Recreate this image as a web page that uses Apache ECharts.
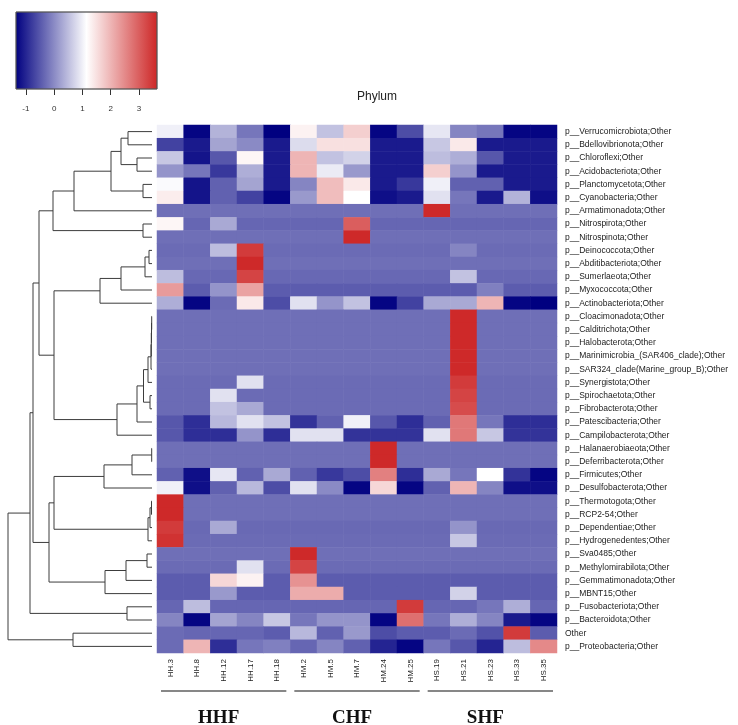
<!DOCTYPE html>
<html>
<head>
<meta charset="utf-8">
<script src="https://cdn.jsdelivr.net/npm/echarts@6/dist/echarts.min.js"></script>
<style>
html, body { margin: 0; padding: 0; background: #fff; }
#main { width: 738px; height: 725px; }
</style>
</head>
<body>
<div id="main"></div>
<script>
var samples = ['HH.3', 'HH.8', 'HH.12', 'HH.17', 'HH.18', 'HM.2', 'HM.5', 'HM.7', 'HM.24', 'HM.25',
    'HS.19', 'HS.21', 'HS.23', 'HS.33', 'HS.35'];

var phyla = [
    'p__Verrucomicrobiota;Other', 'p__Bdellovibrionota;Other', 'p__Chloroflexi;Other',
    'p__Acidobacteriota;Other', 'p__Planctomycetota;Other', 'p__Cyanobacteria;Other',
    'p__Armatimonadota;Other', 'p__Nitrospirota;Other', 'p__Nitrospinota;Other',
    'p__Deinococcota;Other', 'p__Abditibacteriota;Other', 'p__Sumerlaeota;Other',
    'p__Myxococcota;Other', 'p__Actinobacteriota;Other', 'p__Cloacimonadota;Other',
    'p__Calditrichota;Other', 'p__Halobacterota;Other', 'p__Marinimicrobia_(SAR406_clade);Other',
    'p__SAR324_clade(Marine_group_B);Other', 'p__Synergistota;Other', 'p__Spirochaetota;Other',
    'p__Fibrobacterota;Other', 'p__Patescibacteria;Other', 'p__Campilobacterota;Other',
    'p__Halanaerobiaeota;Other', 'p__Deferribacterota;Other', 'p__Firmicutes;Other',
    'p__Desulfobacterota;Other', 'p__Thermotogota;Other', 'p__RCP2-54;Other',
    'p__Dependentiae;Other', 'p__Hydrogenedentes;Other', 'p__Sva0485;Other',
    'p__Methylomirabilota;Other', 'p__Gemmatimonadota;Other', 'p__MBNT15;Other',
    'p__Fusobacteriota;Other', 'p__Bacteroidota;Other', 'Other', 'p__Proteobacteria;Other'
];

// row z-scores, one row per phylum, columns in samples order
var zRows = [
    [1.0, -1.3, 0.4, -0.2, -1.35, 1.3, 0.55, 1.7, -1.3, -0.6, 0.9, -0.05, -0.2, -1.3, -1.3],
    [-0.7, -1.1, 0.25, 0.0, -1.1, 0.8, 1.5, 1.5, -1.1, -1.1, 0.6, 1.4, -1.1, -1.1, -1.1],
    [0.6, -1.15, -0.5, 1.25, -1.1, 2.0, 0.55, 0.7, -1.1, -1.1, 0.5, 0.35, -0.5, -1.1, -1.1],
    [0.1, -0.2, -0.8, 0.35, -1.1, 2.0, 0.95, 0.15, -1.1, -1.1, 1.7, 0.1, -1.1, -1.1, -1.1],
    [1.1, -1.15, -0.4, 0.25, -1.1, -0.05, 1.9, 1.4, -1.1, -0.8, 1.0, -0.4, -0.4, -1.1, -1.1],
    [1.35, -1.15, -0.4, -0.7, -1.3, 0.15, 1.9, 1.15, -1.2, -1.1, 0.85, -0.2, -1.1, 0.4, -1.2],
    [-0.26, -0.26, -0.26, -0.26, -0.26, -0.26, -0.26, -0.26, -0.26, -0.26, 3.6, -0.26, -0.26, -0.26, -0.26],
    [1.25, -0.35, 0.3, -0.35, -0.35, -0.35, -0.35, 3.0, -0.35, -0.35, -0.35, -0.35, -0.35, -0.35, -0.35],
    [-0.26, -0.26, -0.26, -0.26, -0.26, -0.26, -0.26, 3.6, -0.26, -0.26, -0.26, -0.26, -0.26, -0.26, -0.26],
    [-0.3, -0.3, 0.5, 3.4, -0.3, -0.3, -0.3, -0.3, -0.3, -0.3, -0.3, -0.05, -0.3, -0.3, -0.3],
    [-0.26, -0.26, -0.26, 3.6, -0.26, -0.26, -0.26, -0.26, -0.26, -0.26, -0.26, -0.26, -0.26, -0.26, -0.26],
    [0.5, -0.33, -0.33, 3.3, -0.33, -0.33, -0.33, -0.33, -0.33, -0.33, -0.33, 0.55, -0.33, -0.33, -0.33],
    [2.3, -0.45, 0.1, 2.2, -0.45, -0.45, -0.45, -0.45, -0.45, -0.45, -0.45, -0.45, -0.1, -0.45, -0.45],
    [0.35, -1.3, -0.3, 1.4, -0.6, 0.85, 0.1, 0.55, -1.3, -0.7, 0.3, 0.3, 2.0, -1.3, -1.35],
    [-0.26, -0.26, -0.26, -0.26, -0.26, -0.26, -0.26, -0.26, -0.26, -0.26, -0.26, 3.6, -0.26, -0.26, -0.26],
    [-0.26, -0.26, -0.26, -0.26, -0.26, -0.26, -0.26, -0.26, -0.26, -0.26, -0.26, 3.6, -0.26, -0.26, -0.26],
    [-0.26, -0.26, -0.26, -0.26, -0.26, -0.26, -0.26, -0.26, -0.26, -0.26, -0.26, 3.6, -0.26, -0.26, -0.26],
    [-0.26, -0.26, -0.26, -0.26, -0.26, -0.26, -0.26, -0.26, -0.26, -0.26, -0.26, 3.6, -0.26, -0.26, -0.26],
    [-0.26, -0.26, -0.26, -0.26, -0.26, -0.26, -0.26, -0.26, -0.26, -0.26, -0.26, 3.6, -0.26, -0.26, -0.26],
    [-0.3, -0.3, -0.3, 0.85, -0.3, -0.3, -0.3, -0.3, -0.3, -0.3, -0.3, 3.4, -0.3, -0.3, -0.3],
    [-0.3, -0.3, 0.85, -0.3, -0.3, -0.3, -0.3, -0.3, -0.3, -0.3, -0.3, 3.3, -0.3, -0.3, -0.3],
    [-0.3, -0.3, 0.55, 0.3, -0.3, -0.3, -0.3, -0.3, -0.3, -0.3, -0.3, 3.2, -0.3, -0.3, -0.3],
    [-0.5, -0.9, 0.45, 0.85, 0.55, -0.85, -0.4, 1.0, -0.5, -0.9, -0.4, 2.7, -0.2, -0.9, -0.9],
    [-0.5, -0.9, -0.9, 0.1, -0.9, 0.85, 0.85, -0.85, -0.85, -0.85, 0.85, 2.7, 0.6, -0.85, -0.85],
    [-0.26, -0.26, -0.26, -0.26, -0.26, -0.26, -0.26, -0.26, 3.6, -0.26, -0.26, -0.26, -0.26, -0.26, -0.26],
    [-0.26, -0.26, -0.26, -0.26, -0.26, -0.26, -0.26, -0.26, 3.6, -0.26, -0.26, -0.26, -0.26, -0.26, -0.26],
    [-0.4, -1.2, 0.9, -0.4, 0.3, -0.4, -0.8, -0.6, 2.6, -0.9, 0.3, -0.2, 1.15, -0.85, -1.3],
    [1.0, -1.2, -0.4, 0.45, -0.6, 0.85, 0.0, -1.3, 1.6, -1.3, -0.4, 2.0, -0.05, -1.2, -1.2],
    [3.6, -0.26, -0.26, -0.26, -0.26, -0.26, -0.26, -0.26, -0.26, -0.26, -0.26, -0.26, -0.26, -0.26, -0.26],
    [3.6, -0.26, -0.26, -0.26, -0.26, -0.26, -0.26, -0.26, -0.26, -0.26, -0.26, -0.26, -0.26, -0.26, -0.26],
    [3.4, -0.32, 0.3, -0.32, -0.32, -0.32, -0.32, -0.32, -0.32, -0.32, -0.32, 0.1, -0.32, -0.32, -0.32],
    [3.5, -0.3, -0.3, -0.3, -0.3, -0.3, -0.3, -0.3, -0.3, -0.3, -0.3, 0.6, -0.3, -0.3, -0.3],
    [-0.26, -0.26, -0.26, -0.26, -0.26, 3.6, -0.26, -0.26, -0.26, -0.26, -0.26, -0.26, -0.26, -0.26, -0.26],
    [-0.3, -0.3, -0.3, 0.85, -0.3, 3.3, -0.3, -0.3, -0.3, -0.3, -0.3, -0.3, -0.3, -0.3, -0.3],
    [-0.45, -0.45, 1.6, 1.3, -0.45, 2.4, -0.45, -0.45, -0.45, -0.45, -0.45, -0.45, -0.45, -0.45, -0.45],
    [-0.45, -0.45, 0.15, -0.45, -0.45, 2.1, 2.1, -0.45, -0.45, -0.45, -0.45, 0.7, -0.45, -0.45, -0.45],
    [-0.35, 0.5, -0.35, -0.35, -0.35, -0.35, -0.35, -0.35, -0.35, 3.4, -0.35, -0.35, -0.2, 0.35, -0.35],
    [-0.05, -1.3, 0.25, -0.05, 0.6, -0.2, 0.1, 0.1, -1.3, 2.8, -0.2, 0.35, -0.05, -1.1, -1.3],
    [-0.3, -0.35, -0.35, -0.35, -0.45, 0.45, -0.4, 0.15, -0.6, -0.45, -0.45, -0.3, -0.55, 3.4, -0.45],
    [-0.3, 2.0, -0.9, -0.2, -0.1, -0.35, -0.05, -0.4, -1.0, -1.3, -0.2, -0.5, -1.0, 0.5, 2.5]
];

// row clustering, hclust style: negative = leaf (1-based row), positive = earlier merge; then height
var merges = [
    [-1, -2, 24], [-3, -4, 15], [1, 2, 31], [-5, -6, 9], [3, 4, 41],
    [5, -7, 78], [-8, -9, 9], [6, 7, 99], [-10, -11, 3], [9, -12, 7],
    [10, -13, 31], [11, -14, 52], [-15, -16, 0.3], [13, -17, 0.5], [14, -18, 0.7],
    [15, -19, 1], [16, -20, 4], [-21, -22, 2], [17, 18, 8.5], [19, -23, 15],
    [20, -24, 35], [12, 21, 98], [8, 22, 113], [-25, -26, 0.3], [24, -27, 20],
    [25, -28, 48], [-29, -30, 0.5], [27, -31, 2], [28, -32, 4], [26, 29, 98],
    [-33, -34, 5], [31, -35, 26], [32, -36, 47], [30, 33, 103], [23, 34, 119],
    [-37, -38, 25], [35, 36, 122], [-39, -40, 79], [37, 38, 144]
];

var legendRange = [-1.35, 3.64];
var legendTicks = [-1, 0, 1, 2, 3];
var colorStops = ['#000080', '#ffffff', '#cd2626'];

var groups = [
    ['HHF', 'HH.3', 'HH.18'],
    ['CHF', 'HM.2', 'HM.25'],
    ['SHF', 'HS.19', 'HS.35']
];

var cells = [];
for (var r = 0; r < zRows.length; r++) {
    for (var c = 0; c < samples.length; c++) {
        cells.push([c, r, zRows[r][c]]);
    }
}

// dendrogram layout: leaf at row centre, node at mean of its children
var nodeY = [], nodeH = [], links = [];
function nodePos(ref) {
    if (ref < 0) return { y: -ref - 1 + 0.5, h: 0 };
    return { y: nodeY[ref - 1], h: nodeH[ref - 1] };
}
merges.forEach(function (m) {
    var a = nodePos(m[0]), b = nodePos(m[1]);
    nodeY.push((a.y + b.y) / 2);
    nodeH.push(m[2]);
    links.push([m[2], a.y, a.h, b.y, b.h]);
});
var maxH = merges[merges.length - 1][2];

var lblFont = 'Liberation Sans';

var chart = echarts.init(document.getElementById('main'));
var option = {
    backgroundColor: '#fff',
    animation: false,
    title: {
        text: 'Phylum',
        left: 352,
        top: 86,
        textStyle: { fontSize: 12, fontWeight: 'normal', color: '#222', fontFamily: lblFont }
    },
    grid: [
        { left: 157, top: 125, width: 400, height: 528 },   // heatmap
        { left: 8, top: 125, width: 144, height: 528 },     // dendrogram
        { left: 16, top: 12, width: 141, height: 77 }       // colour key
    ],
    xAxis: [
        {
            type: 'category', gridIndex: 0, data: samples, position: 'bottom',
            axisLine: { show: false }, axisTick: { show: false }, splitLine: { show: false },
            axisLabel: { rotate: 90, fontSize: 8, color: '#222', margin: 6, fontFamily: lblFont, interval: 0 }
        },
        { type: 'value', gridIndex: 1, min: 0, max: maxH, inverse: true, show: false },
        {
            type: 'value', gridIndex: 2, min: legendRange[0], max: legendRange[1],
            axisLine: { show: false }, splitLine: { show: false },
            axisTick: { show: true, length: 6, customValues: legendTicks, lineStyle: { color: '#333' } },
            axisLabel: { customValues: legendTicks, fontSize: 8, color: '#333', margin: 16, fontFamily: lblFont }
        }
    ],
    yAxis: [
        {
            type: 'category', gridIndex: 0, data: phyla, inverse: true, position: 'right',
            axisLine: { show: false }, axisTick: { show: false }, splitLine: { show: false },
            axisLabel: { fontSize: 8.5, color: '#222', margin: 8, fontFamily: lblFont, interval: 0 }
        },
        { type: 'value', gridIndex: 1, min: 0, max: phyla.length, inverse: true, show: false },
        { type: 'value', gridIndex: 2, min: 0, max: 1, show: false }
    ],
    visualMap: {
        show: false,
        seriesIndex: 0,
        min: legendRange[0],
        max: legendRange[1],
        inRange: { color: colorStops }
    },
    series: [
        {
            type: 'heatmap',
            xAxisIndex: 0, yAxisIndex: 0,
            data: cells,
            itemStyle: { borderWidth: 0 },
            emphasis: { disabled: true }
        },
        {
            type: 'custom',
            xAxisIndex: 1, yAxisIndex: 1,
            data: links,
            encode: { x: 0, y: 1 },
            silent: true,
            renderItem: function (params, api) {
                var h = api.value(0), ya = api.value(1), ha = api.value(2),
                    yb = api.value(3), hb = api.value(4);
                var pts = [api.coord([ha, ya]), api.coord([h, ya]), api.coord([h, yb]), api.coord([hb, yb])];
                return {
                    type: 'polyline',
                    shape: { points: pts },
                    style: { stroke: '#3c3c3c', lineWidth: 1, fill: null }
                };
            }
        },
        {
            type: 'custom',
            xAxisIndex: 2, yAxisIndex: 2,
            data: [[legendRange[0], 0, legendRange[1], 1]],
            silent: true,
            renderItem: function (params, api) {
                var p0 = api.coord([api.value(0), api.value(3)]);
                var p1 = api.coord([api.value(2), api.value(1)]);
                return {
                    type: 'rect',
                    shape: { x: p0[0], y: p0[1], width: p1[0] - p0[0], height: p1[1] - p0[1] },
                    style: {
                        stroke: '#555', lineWidth: 0.8,
                        fill: new echarts.graphic.LinearGradient(0, 0, 1, 0, [
                            { offset: 0, color: colorStops[0] },
                            { offset: 0.5, color: colorStops[1] },
                            { offset: 1, color: colorStops[2] }
                        ])
                    }
                };
            }
        }
    ]
};
chart.setOption(option);

// sample group brackets under the column labels
var colW = 400 / samples.length;
var gfx = [];
groups.forEach(function (g) {
    var x0 = chart.convertToPixel({ xAxisIndex: 0 }, g[1]) - colW / 2 + 4;
    var x1 = chart.convertToPixel({ xAxisIndex: 0 }, g[2]) + colW / 2 - 4;
    gfx.push({
        type: 'line',
        shape: { x1: x0, y1: 691, x2: x1, y2: 691 },
        style: { stroke: '#111', lineWidth: 1.2 }
    });
    gfx.push({
        type: 'text',
        x: (x0 + x1) / 2 - 5, y: 718,
        style: {
            text: g[0], fill: '#111', align: 'center', verticalAlign: 'middle',
            font: 'bold 19px "Liberation Serif", "Times New Roman", serif'
        }
    });
});
chart.setOption({ graphic: gfx });
</script>
</body>
</html>
